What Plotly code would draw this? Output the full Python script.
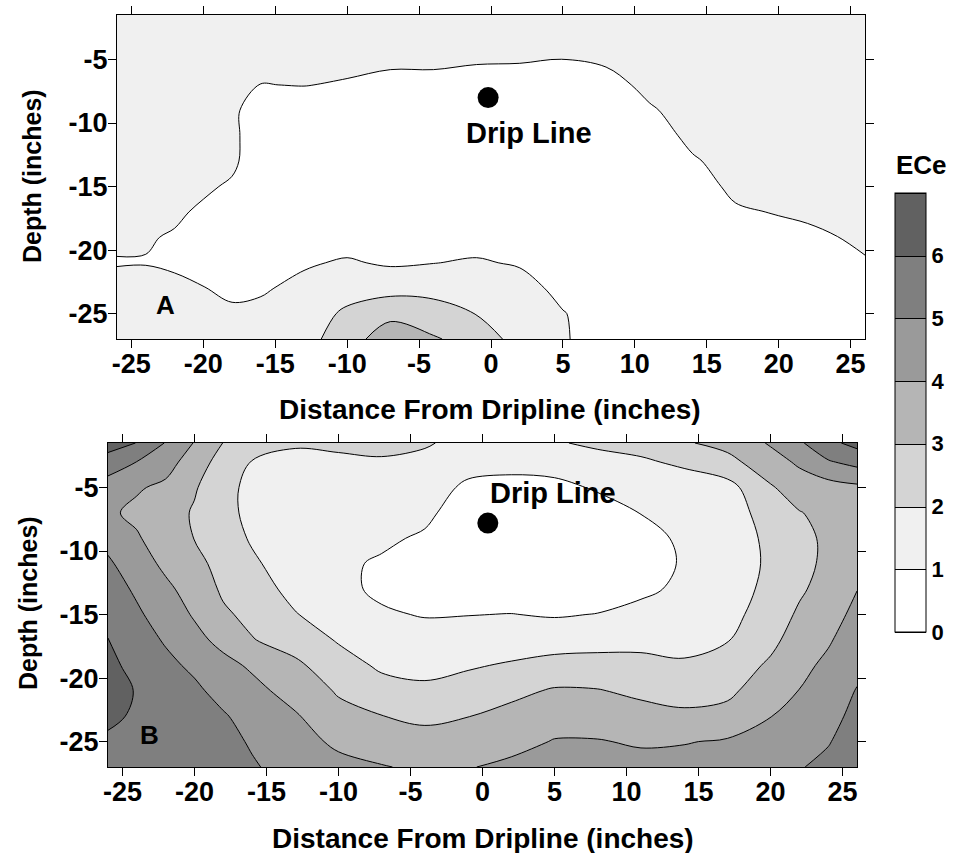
import numpy as np
import plotly.graph_objects as go

# ---------------- data ----------------
distance_in = [-26, -24, -22, -20, -18, -16, -13, -10, -7, -4, -1, 2, 5, 8, 11, 14, 17, 20, 22, 24, 26]
depth_in = [-1.5, -3, -5, -7, -9, -11, -13, -15, -17, -19, -21, -23, -25, -27]

# ECe values, one list per distance column (top -> bottom in depth)
ece_a_columns = [
    [1.6, 1.6, 1.6, 1.6, 1.55, 1.5, 1.5, 1.45, 1.4, 1.3, 0.9, 1.57, 1.6, 1.6],
    [1.6, 1.6, 1.6, 1.55, 1.5, 1.45, 1.4, 1.35, 1.25, 1.1, 0.95, 1.45, 1.6, 1.6],
    [1.6, 1.6, 1.55, 1.5, 1.45, 1.4, 1.35, 1.3, 1.2, 0.89, 0.8, 1.3, 1.5, 1.55],
    [1.6, 1.6, 1.55, 1.5, 1.45, 1.4, 1.3, 1.2, 0.8, 0.7, 0.7, 1.03, 1.4, 1.5],
    [1.6, 1.55, 1.5, 1.4, 1.3, 1.3, 1.25, 0.83, 0.6, 0.5, 0.5, 0.75, 1.2, 1.4],
    [1.6, 1.5, 1.3, 0.98, 0.2, 0.2, 0.2, 0.3, 0.4, 0.5, 0.6, 0.9, 1.2, 1.3],
    [1.6, 1.5, 1.3, 1.03, 0.4, 0.3, 0.2, 0.2, 0.3, 0.6, 0.9, 1.23, 1.5, 1.8],
    [1.6, 1.5, 1.3, 0.9, 0.4, 0.3, 0.2, 0.2, 0.3, 0.6, 1.1, 1.6, 2.17, 2.3],
    [1.5, 1.4, 1.2, 0.7, 0.3, 0.2, 0.15, 0.15, 0.2, 0.5, 0.873, 1.72, 2.586, 3.9],
    [1.5, 1.4, 1.2, 0.7, 0.3, 0.2, 0.15, 0.15, 0.2, 0.5, 0.98, 1.7, 2.4, 3.1],
    [1.5, 1.35, 1.1, 0.6, 0.3, 0.2, 0.15, 0.15, 0.2, 0.6, 1.1, 1.6, 1.97, 2.6],
    [1.5, 1.35, 1.08, 0.55, 0.3, 0.2, 0.15, 0.15, 0.2, 0.5, 0.9, 1.4, 1.55, 1.6],
    [1.5, 1.3, 0.99, 0.5, 0.3, 0.2, 0.15, 0.15, 0.2, 0.3, 0.5, 0.7, 1.05, 1.1],
    [1.5, 1.35, 1.12, 0.72, 0.4, 0.3, 0.2, 0.2, 0.2, 0.3, 0.4, 0.45, 0.5, 0.5],
    [1.6, 1.5, 1.4, 1.2, 0.914, 0.6, 0.4, 0.3, 0.3, 0.3, 0.35, 0.4, 0.45, 0.5],
    [1.6, 1.6, 1.5, 1.4, 1.3, 1.2, 0.914, 0.6, 0.5, 0.4, 0.4, 0.45, 0.5, 0.5],
    [1.6, 1.6, 1.6, 1.5, 1.45, 1.4, 1.3, 1.2, 0.89, 0.6, 0.5, 0.5, 0.5, 0.5],
    [1.6, 1.6, 1.6, 1.5, 1.45, 1.4, 1.35, 1.25, 1.05, 0.717, 0.55, 0.5, 0.5, 0.5],
    [1.6, 1.6, 1.6, 1.5, 1.45, 1.4, 1.35, 1.3, 1.15, 0.817, 0.6, 0.5, 0.5, 0.5],
    [1.6, 1.6, 1.6, 1.5, 1.45, 1.4, 1.35, 1.3, 1.3, 0.98, 0.7, 0.6, 0.5, 0.5],
    [1.6, 1.6, 1.6, 1.5, 1.45, 1.4, 1.35, 1.3, 1.3, 1.2, 0.914, 0.7, 0.6, 0.55],
]

ece_b_columns = [
    [6.4, 5.6, 4.5, 4.15, 4.7, 5.15, 5.45, 5.75, 6.02, 6.2, 6.35, 6.15, 5.88, 5.7],
    [5.98, 4.98, 4.1, 3.8, 4.1, 4.45, 4.85, 5.15, 5.45, 5.75, 5.95, 5.9, 5.75, 5.55],
    [4.95, 4.4, 3.8, 3.45, 3.5, 3.8, 4.2, 4.55, 4.9, 5.25, 5.5, 5.65, 5.65, 5.6],
    [3.95, 3.5, 3.1, 2.9, 2.98, 3.3, 3.6, 3.9, 4.3, 4.8, 5.2, 5.35, 5.45, 5.45],
    [2.98, 2.6, 2.3, 2.3, 2.45, 2.65, 2.85, 3.15, 3.7, 4.3, 4.65, 5.1, 5.3, 5.35],
    [2.25, 1.97, 1.75, 1.75, 1.9, 2.15, 2.45, 2.75, 3.05, 3.85, 4.3, 4.6, 4.9, 5.1],
    [2.06, 1.85, 1.55, 1.4, 1.4, 1.5, 1.7, 2.05, 2.55, 3.2, 3.6, 4.1, 4.4, 4.6],
    [2.15, 1.85, 1.5, 1.3, 1.2, 1.15, 1.2, 1.5, 1.92, 2.4, 2.9, 3.3, 3.8, 4.3],
    [2.25, 1.9, 1.6, 1.4, 1.15, 0.9, 0.85, 1.1, 1.45, 1.85, 2.35, 3.02, 3.55, 4.05],
    [2.08, 1.8, 1.5, 1.2, 0.88, 0.6, 0.6, 0.95, 1.35, 1.7, 2.2, 2.8, 3.35, 3.85],
    [1.75, 1.4, 0.8, 0.5, 0.35, 0.3, 0.4, 0.98, 1.4, 1.9, 2.4, 2.98, 3.5, 3.95],
    [1.7, 1.3, 0.7, 0.4, 0.3, 0.3, 0.5, 1.02, 1.5, 2.1, 2.75, 3.3, 3.7, 4.2],
    [1.95, 1.4, 0.75, 0.4, 0.3, 0.3, 0.5, 0.92, 1.6, 2.3, 3.1, 3.6, 4.05, 4.35],
    [2.1, 1.8, 1.1, 0.6, 0.4, 0.35, 0.5, 1.03, 1.65, 2.35, 3.05, 3.55, 4.05, 4.35],
    [2.2, 1.92, 1.5, 1.02, 0.7, 0.55, 0.8, 1.3, 1.75, 2.25, 2.8, 3.35, 3.9, 4.3],
    [2.9, 2.1, 1.7, 1.35, 1.15, 1.1, 1.2, 1.45, 1.75, 2.1, 2.6, 3.2, 3.95, 4.35],
    [3.3, 2.7, 1.65, 1.55, 1.5, 1.5, 1.55, 1.7, 1.95, 2.45, 2.8, 3.3, 4.1, 4.45],
    [4.1, 3.6, 2.9, 2.4, 2.2, 2.15, 2.25, 2.45, 2.75, 3.15, 3.55, 3.98, 4.35, 4.6],
    [4.85, 4.15, 3.5, 2.95, 2.7, 2.65, 2.85, 3.15, 3.45, 3.75, 4.02, 4.4, 4.7, 4.95],
    [5.75, 4.9, 3.6, 3.3, 3.2, 3.25, 3.4, 3.6, 3.9, 4.2, 4.45, 4.7, 4.95, 5.2],
    [6.3, 5.3, 3.8, 3.6, 3.55, 3.7, 3.98, 4.25, 4.5, 4.75, 5.05, 5.25, 5.4, 5.5],
]

drip_a = {"x": [-0.2], "y": [-8.0]}
drip_b = {"x": [0.37], "y": [-7.8]}

x_ticks = [-25, -20, -15, -10, -5, 0, 5, 10, 15, 20, 25]
x_tick_text = ["-25", "-20", "-15", "-10", "-5", "0", "5", "10", "15", "20", "25"]
y_ticks = [-25, -20, -15, -10, -5]
y_tick_text = ["-25", "-20", "-15", "-10", "-5"]
ece_ticks = [0, 1, 2, 3, 4, 5, 6]
band_colors = ["#ffffff", "#f0f0f0", "#d4d4d4", "#b5b5b5", "#9a9a9a", "#7f7f7f", "#616161"]

# ---------------- figure ----------------
W, H = 953, 853
FONT = "Liberation Sans, Arial, Helvetica, sans-serif"

ece_a = np.array(ece_a_columns).T
ece_b = np.array(ece_b_columns).T

n = len(band_colors)
colorscale = []
for i, c in enumerate(band_colors):
    colorscale.append([i / n, c])
    colorscale.append([(i + 1) / n, c])

contour_common = dict(
    x=distance_in, y=depth_in, zmin=0, zmax=7, autocontour=False,
    contours=dict(start=0, end=7, size=1, coloring="fill", showlines=True),
    line=dict(color="black", width=1, smoothing=1.0),
    colorscale=colorscale, hoverinfo="skip",
)

fig = go.Figure()
fig.add_trace(go.Contour(
    z=ece_a, xaxis="x", yaxis="y", showscale=True,
    colorbar=dict(
        x=895 / W, xanchor="left", y=1 - 412.35 / H, yanchor="middle",
        len=439.3 / H, lenmode="fraction", thickness=31, thicknessmode="pixels",
        outlinewidth=1, outlinecolor="black", tickvals=ece_ticks, ticks="",
        tickfont=dict(family=FONT, size=22, color="black", weight="bold"),
        xpad=0, ypad=0,
    ),
    **contour_common))
fig.add_trace(go.Contour(z=ece_b, xaxis="x2", yaxis="y2", showscale=False, **contour_common))

for d, xa, ya in [(drip_a, "x", "y"), (drip_b, "x2", "y2")]:
    fig.add_trace(go.Scatter(x=d["x"], y=d["y"], mode="markers", xaxis=xa, yaxis=ya,
                             marker=dict(color="black", size=21), showlegend=False,
                             hoverinfo="skip"))

tickfont = dict(family=FONT, size=27, color="black", weight="bold")
axis_common = dict(showline=True, linecolor="black", linewidth=1, mirror="ticks",
                   ticks="outside", ticklen=8, tickwidth=1, tickcolor="black",
                   showgrid=False, zeroline=False, tickfont=tickfont)

fig.update_layout(
    width=W, height=H,
    margin=dict(l=0, r=0, t=0, b=0, autoexpand=False),
    paper_bgcolor="white", plot_bgcolor="white",
    showlegend=False,
    xaxis=dict(domain=[117 / W, 865 / W], range=[-26, 26], tickvals=x_ticks, ticktext=x_tick_text,
               anchor="y", ticklabelstandoff=-7, **axis_common),
    yaxis=dict(domain=[1 - 339 / H, 1 - 15 / H], range=[-27, -1.5], tickvals=y_ticks, ticktext=y_tick_text,
               anchor="x", ticklabelstandoff=-5, **axis_common),
    xaxis2=dict(domain=[108 / W, 857 / W], range=[-26, 26], tickvals=x_ticks, ticktext=x_tick_text,
                anchor="y2", ticklabelstandoff=-7, **axis_common),
    yaxis2=dict(domain=[1 - 767 / H, 1 - 443 / H], range=[-27, -1.5], tickvals=y_ticks, ticktext=y_tick_text,
                anchor="x2", ticklabelstandoff=-5, **axis_common),
)

def txt(text, x, y, size, xref="paper", yref="paper", angle=0):
    fig.add_annotation(text=text, x=x, y=y, xref=xref, yref=yref, showarrow=False,
                       textangle=angle, xanchor="center", yanchor="middle",
                       font=dict(family=FONT, size=size, color="black", weight="bold"))

title_x = "Distance From Dripline (inches)"
title_y = "Depth (inches)"
txt(title_x, 490 / W, 1 - 409 / H, 28)
txt(title_x, 482.5 / W, 1 - 838 / H, 28)
txt(title_y, 32 / W, 1 - 176 / H, 25, angle=-90)
txt(title_y, 28 / W, 1 - 603 / H, 25, angle=-90)
txt("ECe", 921 / W, 1 - 165.5 / H, 26)
txt("Drip Line", 2.65, -10.8, 29, xref="x", yref="y")
txt("Drip Line", 4.9, -5.4, 29, xref="x2", yref="y2")
txt("A", -22.6, -24.3, 26, xref="x", yref="y")
txt("B", -23.1, -24.45, 26, xref="x2", yref="y2")

fig.write_html("out.html", config={"displayModeBar": False},
               post_script="document.body.style.margin='0px';")
